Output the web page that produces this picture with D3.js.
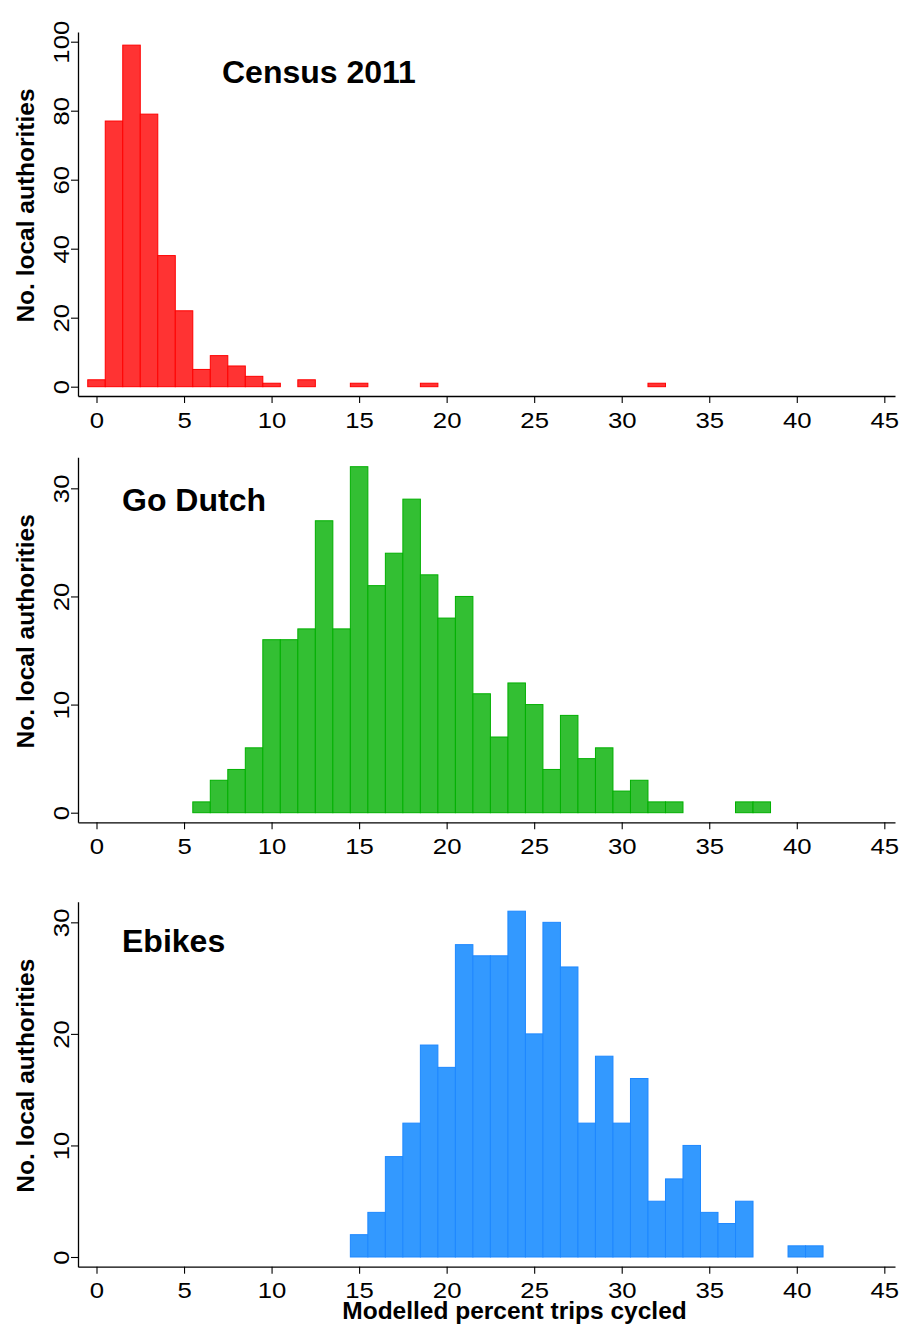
<!DOCTYPE html>
<html>
<head>
<meta charset="utf-8">
<script src="https://cdn.jsdelivr.net/npm/d3@7"></script>
<style>
  html, body { margin: 0; padding: 0; background: #ffffff; }
  svg { display: block; }
</style>
</head>
<body>
<svg id="chart" width="919" height="1341"></svg>
<script>
// ---------------- data ----------------
const xTicks = [0, 5, 10, 15, 20, 25, 30, 35, 40, 45];

const censusPct = [0, 1, 2, 3, 4, 5, 6, 7, 8, 9, 10, 12, 15, 19, 32];
const censusN   = [2, 77, 99, 79, 38, 22, 5, 9, 6, 3, 1, 2, 1, 1, 1];
const censusYTicks = [0, 20, 40, 60, 80, 100];

const dutchPct = [6, 7, 8, 9, 10, 11, 12, 13, 14, 15, 16, 17, 18, 19, 20, 21, 22, 23, 24, 25, 26, 27, 28, 29, 30, 31, 32, 33, 37, 38];
const dutchN   = [1, 3, 4, 6, 16, 16, 17, 27, 17, 32, 21, 24, 29, 22, 18, 20, 11, 7, 12, 10, 4, 9, 5, 6, 2, 3, 1, 1, 1, 1];
const dutchYTicks = [0, 10, 20, 30];

const ebikePct = [15, 16, 17, 18, 19, 20, 21, 22, 23, 24, 25, 26, 27, 28, 29, 30, 31, 32, 33, 34, 35, 36, 37, 40, 41];
const ebikeN   = [2, 4, 9, 12, 19, 17, 28, 27, 27, 31, 20, 30, 26, 12, 18, 12, 16, 5, 7, 10, 4, 3, 5, 1, 1];
const ebikeYTicks = [0, 10, 20, 30];

const panelTitles = ["Census 2011", "Go Dutch", "Ebikes"];
const yLabel = "No. local authorities";
const xLabel = "Modelled percent trips cycled";

// ---------------- layout ----------------
const svg = d3.select("#chart");
const FONT = "'Liberation Sans', Arial, Helvetica, sans-serif";
const left = 78, right = 895;
const TICK_FS = "22px", TICK_STRETCH = 1.17;

const panels = [
  { pct: censusPct, n: censusN, yTicks: censusYTicks, title: panelTitles[0],
    top: 32, bottom: 396, yDom: [-2.7, 102.81],
    fill: "#FF3333", stroke: "#FF0000", titleX: 222, titleY: 83 },
  { pct: dutchPct, n: dutchN, yTicks: dutchYTicks, title: panelTitles[1],
    top: 457.3, bottom: 822.3, yDom: [-0.888, 32.87],
    fill: "#33BF33", stroke: "#00B000", titleX: 122, titleY: 511 },
  { pct: ebikePct, n: ebikeN, yTicks: ebikeYTicks, title: panelTitles[2],
    top: 901.7, bottom: 1266.7, yDom: [-0.87, 31.85],
    fill: "#3399FF", stroke: "#1E88FF", titleX: 122, titleY: 951.5 }
];

const x = d3.scaleLinear().domain([-1.0567, 45.61]).range([left, right]);

panels.forEach((p) => {
  const y = d3.scaleLinear().domain(p.yDom).range([p.bottom, p.top]);
  const g = svg.append("g");

  // bars
  const data = p.pct.map((c, i) => ({ c, n: p.n[i] }));
  g.append("g").selectAll("rect").data(data).join("rect")
    .attr("x", d => x(d.c - 0.5))
    .attr("width", d => x(d.c + 0.5) - x(d.c - 0.5))
    .attr("y", d => y(d.n))
    .attr("height", d => y(0) - y(d.n))
    .attr("fill", p.fill)
    .attr("stroke", p.stroke)
    .attr("stroke-width", 1);

  // x axis
  const xa = g.append("g")
    .attr("transform", `translate(0,${p.bottom})`)
    .call(d3.axisBottom(x).tickValues(xTicks).tickFormat(d3.format("d")).tickSize(7).tickSizeOuter(0));
  xa.select(".domain").attr("stroke", "#000").attr("stroke-width", 1.3);
  xa.selectAll(".tick line").attr("stroke", "#000").attr("stroke-width", 1.1);
  xa.selectAll(".tick text")
    .attr("y", 31.6).attr("dy", 0)
    .attr("transform", `scale(${TICK_STRETCH},1)`)
    .attr("fill", "#000")
    .style("font-family", FONT).style("font-size", TICK_FS);

  // y axis
  const ya = g.append("g")
    .attr("transform", `translate(${left},0)`)
    .call(d3.axisLeft(y).tickValues(p.yTicks).tickFormat(d3.format("d")).tickSize(7).tickSizeOuter(0));
  ya.select(".domain").attr("stroke", "#000").attr("stroke-width", 1.3);
  ya.selectAll(".tick line").attr("stroke", "#000").attr("stroke-width", 1.1);
  ya.selectAll(".tick text")
    .attr("x", 0).attr("y", -9.5).attr("dy", 0)
    .attr("text-anchor", "middle")
    .attr("transform", `rotate(-90) scale(${TICK_STRETCH},1)`)
    .attr("fill", "#000")
    .style("font-family", FONT).style("font-size", TICK_FS);

  // y label
  g.append("text")
    .attr("transform", `translate(34,${(p.top + p.bottom) / 2 - 8.5}) rotate(-90)`)
    .attr("text-anchor", "middle")
    .style("font-family", FONT).style("font-size", "24.5px").style("font-weight", "bold")
    .text(yLabel);

  // panel title
  g.append("text")
    .attr("x", p.titleX).attr("y", p.titleY)
    .style("font-family", FONT).style("font-size", "32px").style("font-weight", "bold")
    .text(p.title);
});

// x label
svg.append("text")
  .attr("x", 514.5).attr("y", 1319)
  .attr("text-anchor", "middle")
  .style("font-family", FONT).style("font-size", "24.5px").style("font-weight", "bold")
  .text(xLabel);
</script>
</body>
</html>
